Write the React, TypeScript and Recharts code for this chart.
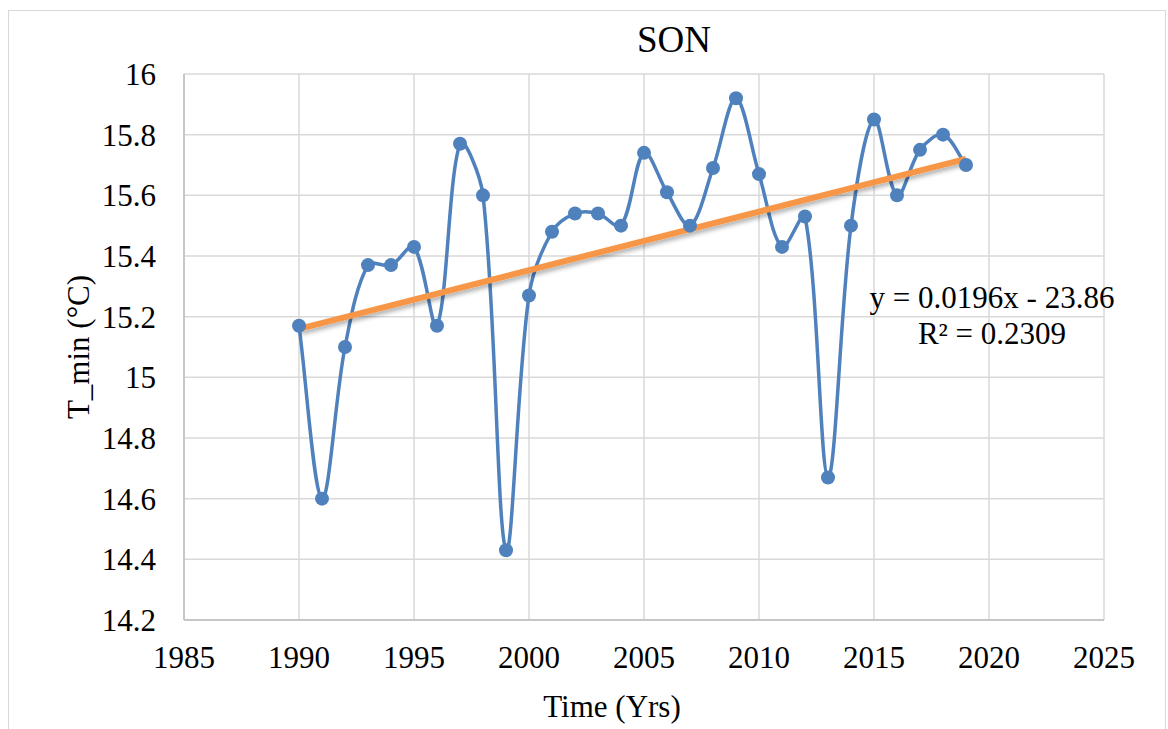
import { ComposedChart, Line, XAxis, YAxis, CartesianGrid, Label } from 'recharts';

// Seasonal (SON) minimum temperature by year
const years = [
  1990, 1991, 1992, 1993, 1994, 1995, 1996, 1997, 1998, 1999,
  2000, 2001, 2002, 2003, 2004, 2005, 2006, 2007, 2008, 2009,
  2010, 2011, 2012, 2013, 2014, 2015, 2016, 2017, 2018, 2019,
];
const tMin = [
  15.17, 14.6, 15.1, 15.37, 15.37, 15.43, 15.17, 15.77, 15.6, 14.43,
  15.27, 15.48, 15.54, 15.54, 15.5, 15.74, 15.61, 15.5, 15.69, 15.92,
  15.67, 15.43, 15.53, 14.67, 15.5, 15.85, 15.6, 15.75, 15.8, 15.7,
];

// Linear trend line end points (as drawn)
const trendYears = [1990, 2019];
const trendValues = [15.16, 15.72];

const xTicks = [1985, 1990, 1995, 2000, 2005, 2010, 2015, 2020, 2025];
const yTicks = [14.2, 14.4, 14.6, 14.8, 15, 15.2, 15.4, 15.6, 15.8, 16];

const data = years.map((year, i) => ({ year, tmin: tMin[i] }));
const trendData = trendYears.map((year, i) => ({ year, trend: trendValues[i] }));

const FONT = '"Liberation Serif", "Times New Roman", serif';
const BLUE = '#4F81BD';
const ORANGE = '#F79646';
const textStyle = { fill: '#000', fontSize: 31, fontFamily: FONT };

// Excel-like smoothed line: bezier segments, tangents scaled by segment length
const excelSmooth = (context: any) => {
  let pts: number[][] = [];
  const dist = (a: number[], b: number[]) => Math.hypot(b[0] - a[0], b[1] - a[1]);
  return {
    areaStart() {},
    areaEnd() {},
    lineStart() {
      pts = [];
    },
    lineEnd() {
      const n = pts.length;
      if (!n) return;
      context.moveTo(pts[0][0], pts[0][1]);
      for (let i = 0; i < n - 1; i++) {
        const p0 = pts[i === 0 ? 0 : i - 1];
        const p1 = pts[i];
        const p2 = pts[i + 1];
        const p3 = pts[i + 2 < n ? i + 2 : n - 1];
        const d01 = dist(p0, p1);
        const d12 = dist(p1, p2);
        const d23 = dist(p2, p3);
        const f1 = d01 + d12 > 0 ? d12 / (d01 + d12) / 3 : 0;
        const f2 = d12 + d23 > 0 ? d12 / (d12 + d23) / 3 : 0;
        context.bezierCurveTo(
          p1[0] + (p2[0] - p0[0]) * f1,
          p1[1] + (p2[1] - p0[1]) * f1,
          p2[0] - (p3[0] - p1[0]) * f2,
          p2[1] - (p3[1] - p1[1]) * f2,
          p2[0],
          p2[1]
        );
      }
    },
    point(x: number, y: number) {
      pts.push([+x, +y]);
    },
  };
};

const XTick = ({ x, y, payload }: any) => (
  <text x={x} y={y} dy={22} textAnchor="middle" style={textStyle}>
    {payload.value}
  </text>
);

const YTick = ({ x, y, payload }: any) => (
  <text x={x} y={y} dy={11} textAnchor="end" style={textStyle}>
    {payload.value}
  </text>
);

export default function App() {
  return (
    <div style={{ position: 'absolute', left: 0, top: 0, width: 1168, height: 729, background: '#fff', overflow: 'hidden' }}>
      <div style={{ position: 'absolute', left: 8, top: 10, width: 1158, height: 760, border: '1.5px solid #d9d9d9', boxSizing: 'border-box' }} />
      <svg width={0} height={0} style={{ position: 'absolute' }}>
        <defs>
          <filter id="trendShadow" x="-5%" y="-50%" width="110%" height="200%">
            <feDropShadow dx={2} dy={3} stdDeviation={2} floodColor="#000" floodOpacity={0.3} />
          </filter>
        </defs>
      </svg>
      <ComposedChart
        width={1168}
        height={729}
        margin={{ top: 74, right: 64, bottom: 0, left: 0 }}
        style={{ position: 'absolute', left: 0, top: 0 }}
      >
        <CartesianGrid stroke="#d9d9d9" strokeWidth={1.5} />
        <XAxis
          dataKey="year"
          type="number"
          domain={[1985, 2025]}
          ticks={xTicks}
          height={109}
          tickLine={false}
          tickSize={0}
          tickMargin={26}
          axisLine={{ stroke: '#c6c6c6', strokeWidth: 2 }}
          tick={<XTick />}
          allowDataOverflow
        >
          <Label value="Time (Yrs)" position="center" dx={-32} dy={31} style={textStyle} />
        </XAxis>
        <YAxis
          type="number"
          domain={[14.2, 16]}
          ticks={yTicks}
          width={184}
          tickLine={false}
          tickSize={0}
          tickMargin={28}
          axisLine={{ stroke: '#c6c6c6', strokeWidth: 2 }}
          tick={<YTick />}
          allowDataOverflow
        >
          <Label value="T_min (°C)" angle={-90} position="center" dx={-14} style={textStyle} />
        </YAxis>
        <Line
          data={data}
          dataKey="tmin"
          type={excelSmooth as any}
          stroke={BLUE}
          strokeWidth={3.5}
          dot={{ r: 7, fill: BLUE, stroke: BLUE, strokeWidth: 0 }}
          activeDot={false}
          isAnimationActive={false}
        />
        <Line
          data={trendData}
          dataKey="trend"
          type="linear"
          stroke={ORANGE}
          strokeWidth={6}
          filter="url(#trendShadow)"
          dot={false}
          activeDot={false}
          isAnimationActive={false}
        />
      </ComposedChart>
      <svg width={1168} height={729} style={{ position: 'absolute', left: 0, top: 0, pointerEvents: 'none' }}>
        <text x={674} y={52} textAnchor="middle" style={{ ...textStyle, fontSize: 37 }}>SON</text>
        <text x={992} y={308} textAnchor="middle" style={textStyle}>y = 0.0196x - 23.86</text>
        <text x={992} y={344} textAnchor="middle" style={textStyle}>R² = 0.2309</text>
      </svg>
    </div>
  );
}
